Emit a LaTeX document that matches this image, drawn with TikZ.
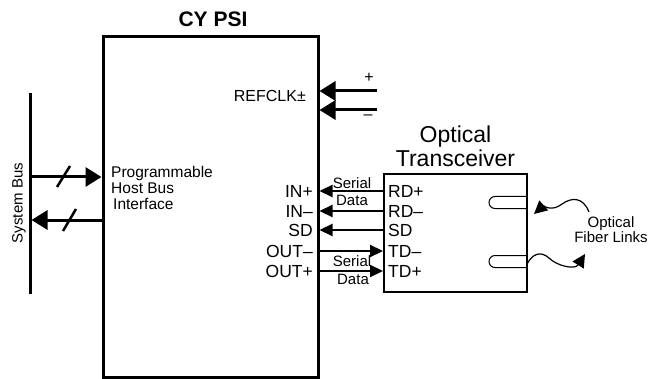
\documentclass[tikz,border=0pt]{standalone}
\usepackage{fontspec}
\setmainfont{Liberation Sans}
\usetikzlibrary{arrows.meta,positioning}

\begin{document}
\begin{tikzpicture}[x=1pt,y=-1pt,
  every node/.style={inner sep=0pt},
  chip/.style={draw,line width=3pt},
  module/.style={draw,line width=2pt},
  bus/.style={line width=3pt},
  busarrow/.style={-{Triangle[length=16pt,width=19pt]},line width=3pt},
  buscut/.style={line width=2.5pt},
  signal/.style={-{Triangle[length=13pt,width=12pt]},line width=2.2pt},
  pinlbl/.style={font=\fontsize{17.5}{18}\selectfont},
  smalltxt/.style={font=\fontsize{15}{15}\selectfont},
  fiber/.style={line width=1pt},
  wave/.style={-{Triangle[length=13pt,width=13pt]},line width=1.2pt}]
  \useasboundingbox (0,0) rectangle (660,379);

  \node[chip,minimum width=215pt,minimum height=340pt] (psi) at (210.5,207) {};
  \node[font=\bfseries\fontsize{21}{21}\selectfont,above=8.5pt of psi,
    xshift=2.5pt] (psilbl) {CY PSI};

  \node[smalltxt,rotate=90] (buslbl) at (19,203) {System Bus};
  \coordinate (bustop) at (30,93);
  \coordinate (busbot) at (30,294);
  \coordinate (busin) at (30,177);
  \coordinate (busout) at (31.5,220);
  \draw[bus] (bustop) -- (busbot);
  \draw[busarrow] (busin) -- (busin -| psi.west);
  \draw[busarrow] (busout -| psi.west) -- (busout);
  \draw[buscut] (57,187) -- (70,166);
  \draw[buscut] (63,231) -- (76,209);
  \node[font=\fontsize{15.5}{16}\selectfont,anchor=north west,align=left]
    (hbi) at (111,165.7) {Programmable\\Host Bus\\\hspace*{2pt}Interface};

  \node[font=\fontsize{16}{16}\selectfont,anchor=base east] (refclk)
    at (306,102) {REFCLK±};
  \coordinate (clkp) at (377,91);
  \coordinate (clkn) at (377,110);
  \draw[busarrow] (clkp) -- (clkp -| psi.east);
  \draw[busarrow] (clkn) -- (clkn -| psi.east);
  \node[font=\fontsize{16}{16}\selectfont] (plus) at (369,78) {+};
  \node[font=\fontsize{16}{16}\selectfont] (minus) at (368,117) {–};

  \node[module,minimum width=143pt,minimum height=118pt] (xcvr)
    at (455.5,233) {};
  \node[font=\fontsize{23}{24}\selectfont,align=center,above=6pt of xcvr]
    (xcvrlbl) {Optical\\Transceiver};

  \node[pinlbl,anchor=east] (inp) at (313,191) {IN+};
  \node[pinlbl,anchor=east] (inn) at (313,211) {IN–};
  \node[pinlbl,anchor=east] (sdi) at (313,230) {SD};
  \node[pinlbl,anchor=east] (outn) at (313,251) {OUT–};
  \node[pinlbl,anchor=east] (outp) at (313,271) {OUT+};
  \node[pinlbl,anchor=west] (rdp) at (388,191) {RD+};
  \node[pinlbl,anchor=west] (rdn) at (388,211) {RD–};
  \node[pinlbl,anchor=west] (sdo) at (388,230) {SD};
  \node[pinlbl,anchor=west] (tdn) at (388,251) {TD–};
  \node[pinlbl,anchor=west] (tdp) at (388,271) {TD+};

  \draw[signal] (rdp -| xcvr.west) -- (inp -| psi.east);
  \draw[signal] (rdn -| xcvr.west) -- (inn -| psi.east);
  \draw[signal] (sdo -| xcvr.west) -- (sdi -| psi.east);
  \draw[signal] (outn -| psi.east) -- (tdn -| xcvr.west);
  \draw[signal] (outp -| psi.east) -- (tdp -| xcvr.west);

  \node[smalltxt] (serin) at (352,183) {Serial};
  \node[smalltxt] (datin) at (352,200) {Data};
  \node[smalltxt] (serout) at (352,261) {Serial};
  \node[smalltxt] (datout) at (353,279) {Data};

  \coordinate (rxfib) at (527,196.5);
  \coordinate (txfib) at (527,255.5);
  \draw[fiber] (rxfib) -- ++(-32,0) arc[start angle=90,end angle=270,
    radius=6pt] -- ++(32,0);
  \draw[fiber] (txfib) -- ++(-32,0) arc[start angle=90,end angle=270,
    radius=6pt] -- ++(32,0);

  \coordinate (rxwave) at (589,212);
  \coordinate (txwave) at (527,264);
  \draw[wave] (rxwave) .. controls (583,197) and (572,197) .. (562,204)
    .. controls (552,212) and (543,206) .. (534,214);
  \draw[wave] (txwave) .. controls (533,253) and (541,251) .. (549,258)
    .. controls (557,266) and (575,270) .. (585,254);
  \node[align=center,font=\fontsize{15}{15}\selectfont] (fiblbl)
    at (611,230) {Optical\\Fiber Links};
\end{tikzpicture}
\end{document}
